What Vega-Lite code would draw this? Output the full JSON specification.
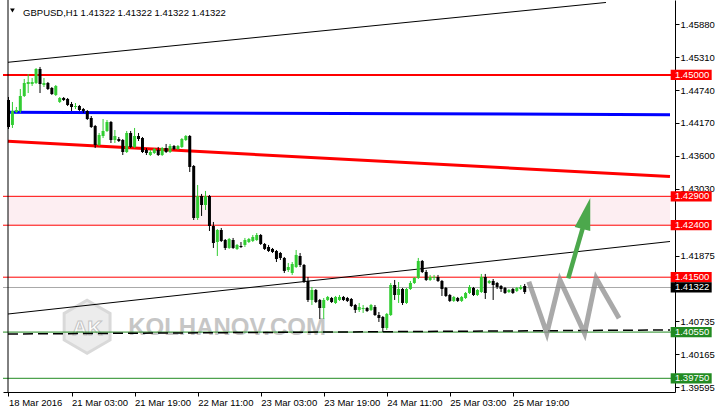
{
  "$schema": "https://vega.github.io/schema/vega-lite/v6.json",
  "width": 672,
  "height": 392,
  "autosize": "none",
  "padding": {"left": 3, "top": 0, "right": 42, "bottom": 20},
  "background": "white",
  "config": {
    "view": {"stroke": null},
    "axis": {"labelFont": "Liberation Sans", "labelFontSize": 9.5, "labelColor": "#000000", "tickColor": "#000000", "domainColor": "#000000", "domainWidth": 1, "tickWidth": 1, "grid": false}
  },
  "datasets": {
    "candles": [
      {"i":0,"o":1.44567,"h":1.44619,"l":1.44065,"c":1.44100},
      {"i":1,"o":1.44135,"h":1.44533,"l":1.44083,"c":1.44377},
      {"i":2,"o":1.44360,"h":1.44446,"l":1.44342,"c":1.44394},
      {"i":3,"o":1.44377,"h":1.44758,"l":1.44342,"c":1.44636},
      {"i":4,"o":1.44636,"h":1.44931,"l":1.44619,"c":1.44862},
      {"i":5,"o":1.44844,"h":1.45017,"l":1.44688,"c":1.44879},
      {"i":6,"o":1.44844,"h":1.44948,"l":1.44810,"c":1.44879},
      {"i":7,"o":1.44862,"h":1.45121,"l":1.44844,"c":1.45104},
      {"i":8,"o":1.45104,"h":1.45139,"l":1.44688,"c":1.44844},
      {"i":9,"o":1.44827,"h":1.44948,"l":1.44792,"c":1.44862},
      {"i":10,"o":1.44862,"h":1.44879,"l":1.44740,"c":1.44758},
      {"i":11,"o":1.44775,"h":1.44792,"l":1.44654,"c":1.44671},
      {"i":12,"o":1.44654,"h":1.44827,"l":1.44636,"c":1.44810},
      {"i":13,"o":1.44533,"h":1.44619,"l":1.44515,"c":1.44602},
      {"i":14,"o":1.44602,"h":1.44619,"l":1.44550,"c":1.44567},
      {"i":15,"o":1.44585,"h":1.44602,"l":1.44463,"c":1.44481},
      {"i":16,"o":1.44498,"h":1.44533,"l":1.44377,"c":1.44446},
      {"i":17,"o":1.44446,"h":1.44515,"l":1.44411,"c":1.44463},
      {"i":18,"o":1.44463,"h":1.44481,"l":1.44377,"c":1.44394},
      {"i":19,"o":1.44411,"h":1.44429,"l":1.44342,"c":1.44377},
      {"i":20,"o":1.44377,"h":1.44394,"l":1.44221,"c":1.44238},
      {"i":21,"o":1.44256,"h":1.44290,"l":1.44083,"c":1.44100},
      {"i":22,"o":1.44117,"h":1.44135,"l":1.43736,"c":1.43788},
      {"i":23,"o":1.43788,"h":1.43996,"l":1.43771,"c":1.43961},
      {"i":24,"o":1.43944,"h":1.44238,"l":1.43909,"c":1.44031},
      {"i":25,"o":1.44031,"h":1.44221,"l":1.44013,"c":1.44186},
      {"i":26,"o":1.44186,"h":1.44204,"l":1.43823,"c":1.43875},
      {"i":27,"o":1.43875,"h":1.44048,"l":1.43823,"c":1.43944},
      {"i":28,"o":1.43892,"h":1.43927,"l":1.43840,"c":1.43857},
      {"i":29,"o":1.43875,"h":1.43892,"l":1.43615,"c":1.43667},
      {"i":30,"o":1.43667,"h":1.44031,"l":1.43650,"c":1.43996},
      {"i":31,"o":1.43996,"h":1.44031,"l":1.43736,"c":1.43754},
      {"i":32,"o":1.43754,"h":1.44083,"l":1.43736,"c":1.43944},
      {"i":33,"o":1.43944,"h":1.43996,"l":1.43857,"c":1.43892},
      {"i":34,"o":1.43909,"h":1.43927,"l":1.43650,"c":1.43667},
      {"i":35,"o":1.43702,"h":1.43736,"l":1.43615,"c":1.43650},
      {"i":36,"o":1.43615,"h":1.43702,"l":1.43598,"c":1.43667},
      {"i":37,"o":1.43650,"h":1.43736,"l":1.43633,"c":1.43719},
      {"i":38,"o":1.43702,"h":1.43754,"l":1.43598,"c":1.43615},
      {"i":39,"o":1.43615,"h":1.43754,"l":1.43598,"c":1.43736},
      {"i":40,"o":1.43736,"h":1.43806,"l":1.43650,"c":1.43667},
      {"i":41,"o":1.43667,"h":1.43806,"l":1.43650,"c":1.43771},
      {"i":42,"o":1.43771,"h":1.43788,"l":1.43702,"c":1.43719},
      {"i":43,"o":1.43719,"h":1.43788,"l":1.43702,"c":1.43771},
      {"i":44,"o":1.43754,"h":1.43909,"l":1.43736,"c":1.43892},
      {"i":45,"o":1.43875,"h":1.43961,"l":1.43857,"c":1.43944},
      {"i":46,"o":1.43944,"h":1.43961,"l":1.43321,"c":1.43408},
      {"i":47,"o":1.43425,"h":1.43442,"l":1.42490,"c":1.42525},
      {"i":48,"o":1.42525,"h":1.43096,"l":1.42490,"c":1.42906},
      {"i":49,"o":1.42906,"h":1.42941,"l":1.42560,"c":1.42750},
      {"i":50,"o":1.42750,"h":1.42993,"l":1.42663,"c":1.42906},
      {"i":51,"o":1.42906,"h":1.42923,"l":1.42300,"c":1.42386},
      {"i":52,"o":1.42386,"h":1.42456,"l":1.42006,"c":1.42092},
      {"i":53,"o":1.42109,"h":1.42334,"l":1.41867,"c":1.42317},
      {"i":54,"o":1.42317,"h":1.42352,"l":1.42109,"c":1.42127},
      {"i":55,"o":1.42144,"h":1.42161,"l":1.41971,"c":1.42006},
      {"i":56,"o":1.42006,"h":1.42179,"l":1.41989,"c":1.42161},
      {"i":57,"o":1.42144,"h":1.42179,"l":1.41989,"c":1.42006},
      {"i":58,"o":1.41989,"h":1.42075,"l":1.41971,"c":1.42058},
      {"i":59,"o":1.42040,"h":1.42109,"l":1.42006,"c":1.42023},
      {"i":60,"o":1.42058,"h":1.42179,"l":1.42023,"c":1.42144},
      {"i":61,"o":1.42109,"h":1.42179,"l":1.42092,"c":1.42161},
      {"i":62,"o":1.42127,"h":1.42231,"l":1.42109,"c":1.42196},
      {"i":63,"o":1.42144,"h":1.42265,"l":1.42127,"c":1.42231},
      {"i":64,"o":1.42231,"h":1.42248,"l":1.42058,"c":1.42075},
      {"i":65,"o":1.42075,"h":1.42092,"l":1.41971,"c":1.41989},
      {"i":66,"o":1.42023,"h":1.42058,"l":1.41937,"c":1.41954},
      {"i":67,"o":1.41989,"h":1.42006,"l":1.41919,"c":1.41937},
      {"i":68,"o":1.41954,"h":1.41971,"l":1.41763,"c":1.41815},
      {"i":69,"o":1.41919,"h":1.41937,"l":1.41798,"c":1.41833},
      {"i":70,"o":1.41833,"h":1.41850,"l":1.41573,"c":1.41608},
      {"i":71,"o":1.41625,"h":1.41746,"l":1.41590,"c":1.41677},
      {"i":72,"o":1.41573,"h":1.41763,"l":1.41539,"c":1.41729},
      {"i":73,"o":1.41677,"h":1.41971,"l":1.41660,"c":1.41885},
      {"i":74,"o":1.41867,"h":1.41919,"l":1.41677,"c":1.41712},
      {"i":75,"o":1.41712,"h":1.41729,"l":1.41400,"c":1.41417},
      {"i":76,"o":1.41435,"h":1.41504,"l":1.41071,"c":1.41106},
      {"i":77,"o":1.41106,"h":1.41331,"l":1.41019,"c":1.41279},
      {"i":78,"o":1.41279,"h":1.41296,"l":1.41054,"c":1.41071},
      {"i":79,"o":1.41106,"h":1.41123,"l":1.40777,"c":1.40967},
      {"i":80,"o":1.40967,"h":1.41140,"l":1.40777,"c":1.41106},
      {"i":81,"o":1.41106,"h":1.41175,"l":1.41089,"c":1.41158},
      {"i":82,"o":1.41140,"h":1.41158,"l":1.41054,"c":1.41071},
      {"i":83,"o":1.41054,"h":1.41175,"l":1.41037,"c":1.41158},
      {"i":84,"o":1.41106,"h":1.41192,"l":1.41089,"c":1.41158},
      {"i":85,"o":1.41158,"h":1.41175,"l":1.41089,"c":1.41106},
      {"i":86,"o":1.41140,"h":1.41158,"l":1.41071,"c":1.41089},
      {"i":87,"o":1.41123,"h":1.41140,"l":1.40985,"c":1.41002},
      {"i":88,"o":1.41019,"h":1.41037,"l":1.40881,"c":1.40933},
      {"i":89,"o":1.40933,"h":1.41054,"l":1.40898,"c":1.40985},
      {"i":90,"o":1.40950,"h":1.41019,"l":1.40881,"c":1.40967},
      {"i":91,"o":1.40967,"h":1.40985,"l":1.40898,"c":1.40915},
      {"i":92,"o":1.40933,"h":1.41037,"l":1.40915,"c":1.41019},
      {"i":93,"o":1.40985,"h":1.41019,"l":1.40829,"c":1.40846},
      {"i":94,"o":1.40846,"h":1.40898,"l":1.40725,"c":1.40794},
      {"i":95,"o":1.40811,"h":1.40829,"l":1.40552,"c":1.40621},
      {"i":96,"o":1.40621,"h":1.40881,"l":1.40587,"c":1.40864},
      {"i":97,"o":1.40846,"h":1.41400,"l":1.40829,"c":1.41365},
      {"i":98,"o":1.41365,"h":1.41452,"l":1.41106,"c":1.41192},
      {"i":99,"o":1.41192,"h":1.41417,"l":1.41054,"c":1.41296},
      {"i":100,"o":1.41296,"h":1.41314,"l":1.41019,"c":1.41054},
      {"i":101,"o":1.41054,"h":1.41314,"l":1.41037,"c":1.41296},
      {"i":102,"o":1.41296,"h":1.41435,"l":1.41279,"c":1.41400},
      {"i":103,"o":1.41400,"h":1.41504,"l":1.41383,"c":1.41487},
      {"i":104,"o":1.41487,"h":1.41833,"l":1.41469,"c":1.41781},
      {"i":105,"o":1.41781,"h":1.41798,"l":1.41573,"c":1.41590},
      {"i":106,"o":1.41590,"h":1.41625,"l":1.41435,"c":1.41452},
      {"i":107,"o":1.41452,"h":1.41539,"l":1.41435,"c":1.41504},
      {"i":108,"o":1.41487,"h":1.41539,"l":1.41452,"c":1.41504},
      {"i":109,"o":1.41504,"h":1.41539,"l":1.41417,"c":1.41435},
      {"i":110,"o":1.41435,"h":1.41452,"l":1.41175,"c":1.41296},
      {"i":111,"o":1.41314,"h":1.41331,"l":1.41158,"c":1.41175},
      {"i":112,"o":1.41192,"h":1.41210,"l":1.41071,"c":1.41089},
      {"i":113,"o":1.41089,"h":1.41175,"l":1.41071,"c":1.41158},
      {"i":114,"o":1.41140,"h":1.41158,"l":1.41071,"c":1.41089},
      {"i":115,"o":1.41089,"h":1.41175,"l":1.41071,"c":1.41158},
      {"i":116,"o":1.41140,"h":1.41244,"l":1.41123,"c":1.41227},
      {"i":117,"o":1.41227,"h":1.41365,"l":1.41210,"c":1.41331},
      {"i":118,"o":1.41314,"h":1.41331,"l":1.41175,"c":1.41192},
      {"i":119,"o":1.41192,"h":1.41296,"l":1.41175,"c":1.41279},
      {"i":120,"o":1.41244,"h":1.41556,"l":1.41227,"c":1.41504},
      {"i":121,"o":1.41504,"h":1.41556,"l":1.41123,"c":1.41227},
      {"i":122,"o":1.41400,"h":1.41452,"l":1.41383,"c":1.41435},
      {"i":123,"o":1.41435,"h":1.41469,"l":1.41106,"c":1.41365},
      {"i":124,"o":1.41400,"h":1.41417,"l":1.41296,"c":1.41331},
      {"i":125,"o":1.41348,"h":1.41365,"l":1.41244,"c":1.41296},
      {"i":126,"o":1.41314,"h":1.41331,"l":1.41210,"c":1.41227},
      {"i":127,"o":1.41244,"h":1.41296,"l":1.41227,"c":1.41279},
      {"i":128,"o":1.41296,"h":1.41314,"l":1.41210,"c":1.41227},
      {"i":129,"o":1.41262,"h":1.41331,"l":1.41244,"c":1.41314},
      {"i":130,"o":1.41296,"h":1.41365,"l":1.41279,"c":1.41331},
      {"i":131,"o":1.41348,"h":1.41383,"l":1.41210,"c":1.41244}
    ],
    "levels": [
      {"p":1.45,"t":"1.45000","k":"resistance"},
      {"p":1.429,"t":"1.42900","k":"resistance"},
      {"p":1.424,"t":"1.42400","k":"resistance"},
      {"p":1.415,"t":"1.41500","k":"resistance"},
      {"p":1.41322,"t":"1.41322","k":"bid"},
      {"p":1.4055,"t":"1.40550","k":"support"},
      {"p":1.3975,"t":"1.39750","k":"support"}
    ]
  },
  "layer": [
    {
      "data": {"name": "candles"},
      "mark": {"type": "rule", "strokeWidth": 1, "opacity": 0},
      "encoding": {
        "x": {
          "field": "i", "type": "quantitative", "title": null,
          "scale": {"domain": [-0.125, 167.875], "nice": false, "zero": false},
          "axis": {
            "values": [0, 16, 32, 48, 64, 80, 96, 112, 128],
            "labelExpr": "['18 Mar 2016','21 Mar 03:00','21 Mar 19:00','22 Mar 11:00','23 Mar 03:00','23 Mar 19:00','24 Mar 11:00','25 Mar 03:00','25 Mar 19:00'][round(datum.value/16)]",
            "title": null, "grid": false, "labelAlign": "left", "labelBaseline": "top",
            "labelPadding": 1, "tickSize": 4, "labelFlush": false, "labelOverlap": false, "labelBound": false
          }
        },
        "y": {
          "field": "l", "type": "quantitative", "title": null,
          "scale": {"domain": [1.39513, 1.46298], "nice": false, "zero": false},
          "axis": {
            "orient": "right",
            "values": [1.4588, 1.4531, 1.4474, 1.4417, 1.436, 1.4303, 1.41875, 1.40735, 1.40165, 1.39595],
            "format": ".5f", "title": null, "grid": false, "tickSize": 4, "labelPadding": 1,
            "labelAlign": "left", "labelBaseline": "middle", "labelOverlap": false, "labelFlush": false
          }
        },
        "y2": {"field": "h"}
      }
    },
    {
      "data": {"values": [{"lo": 1.424, "hi": 1.429}]},
      "mark": {"type": "rect", "color": "#FDEEF2"},
      "encoding": {
        "x": {"datum": -0.125, "type": "quantitative", "title": null},
        "x2": {"datum": 167.875},
        "y": {"field": "lo", "type": "quantitative", "title": null},
        "y2": {"field": "hi"}
      }
    },
    {
      "data": {"values": [{}]},
      "mark": {"type": "point", "shape": "M0,-1L0.866,-0.5L0.866,0.5L0,1L-0.866,0.5L-0.866,-0.5Z", "size": 2809, "filled": true, "fill": "#ECECEC", "stroke": "#D9D9D9", "strokeWidth": 3, "opacity": 1},
      "encoding": {
        "x": {"datum": 19.95, "type": "quantitative", "title": null},
        "y": {"datum": 1.40643, "type": "quantitative", "title": null}
      }
    },
    {
      "data": {"values": [{"t": "AK"}]},
      "mark": {"type": "text", "font": "Liberation Sans", "fontWeight": "bold", "fontSize": 21, "align": "center", "baseline": "alphabetic", "fill": "#FFFFFF", "stroke": "#C4C4C4", "strokeWidth": 1},
      "encoding": {
        "x": {"datum": 20.0, "type": "quantitative", "title": null},
        "y": {"datum": 1.40499, "type": "quantitative", "title": null},
        "text": {"field": "t"}
      }
    },
    {
      "data": {"values": [{"t": "KOLHANOV.COM"}]},
      "mark": {"type": "text", "font": "Liberation Sans", "fontWeight": "bold", "fontSize": 24, "align": "left", "baseline": "alphabetic", "color": "#C6C6C6"},
      "encoding": {
        "x": {"datum": 30.375, "type": "quantitative", "title": null},
        "y": {"datum": 1.40499, "type": "quantitative", "title": null},
        "text": {"field": "t"}
      }
    },
    {
      "data": {"values": [{"p": 1.429}, {"p": 1.424}, {"p": 1.415}]},
      "mark": {"type": "rule", "color": "#FF0000", "strokeWidth": 1},
      "encoding": {"y": {"field": "p", "type": "quantitative", "title": null}}
    },
    {
      "data": {"values": [{"p": 1.45}]},
      "mark": {"type": "rule", "color": "#FF0000", "strokeWidth": 2},
      "encoding": {"y": {"field": "p", "type": "quantitative", "title": null}}
    },
    {
      "data": {"values": [{"p": 1.41322}]},
      "mark": {"type": "rule", "color": "#A8A8A8", "strokeWidth": 1},
      "encoding": {"y": {"field": "p", "type": "quantitative", "title": null}}
    },
    {
      "data": {"values": [{"p": 1.4055}, {"p": 1.3975}]},
      "mark": {"type": "rule", "color": "#228B22", "strokeWidth": 1},
      "encoding": {"y": {"field": "p", "type": "quantitative", "title": null}}
    },
    {
      "data": {"values": [{"i": -0.125, "p": 1.43852}, {"i": 167.875, "p": 1.43243}]},
      "mark": {"type": "line", "color": "#FF0000", "strokeWidth": 3},
      "encoding": {
        "x": {"field": "i", "type": "quantitative", "title": null},
        "y": {"field": "p", "type": "quantitative", "title": null}
      }
    },
    {
      "data": {"values": [{"i": -0.125, "p": 1.44354}, {"i": 167.875, "p": 1.44313}]},
      "mark": {"type": "line", "color": "#0000FF", "strokeWidth": 3},
      "encoding": {
        "x": {"field": "i", "type": "quantitative", "title": null},
        "y": {"field": "p", "type": "quantitative", "title": null}
      }
    },
    {
      "data": {"values": [{"i": -0.125, "p": 1.45220}, {"i": 151.625, "p": 1.46255}]},
      "mark": {"type": "line", "color": "#000000", "strokeWidth": 1},
      "encoding": {
        "x": {"field": "i", "type": "quantitative", "title": null},
        "y": {"field": "p", "type": "quantitative", "title": null}
      }
    },
    {
      "data": {"values": [{"i": -0.125, "p": 1.40863}, {"i": 167.875, "p": 1.42118}]},
      "mark": {"type": "line", "color": "#000000", "strokeWidth": 1},
      "encoding": {
        "x": {"field": "i", "type": "quantitative", "title": null},
        "y": {"field": "p", "type": "quantitative", "title": null}
      }
    },
    {
      "data": {"values": [{"i": -0.125, "p": 1.40517}, {"i": 167.875, "p": 1.40587}]},
      "mark": {"type": "line", "color": "#000000", "strokeWidth": 1.5, "strokeDash": [10, 5]},
      "encoding": {
        "x": {"field": "i", "type": "quantitative", "title": null},
        "y": {"field": "p", "type": "quantitative", "title": null}
      }
    },
    {
      "data": {"name": "candles"},
      "mark": {"type": "rule", "strokeWidth": 1},
      "encoding": {
        "x": {"field": "i", "type": "quantitative", "title": null},
        "y": {"field": "l", "type": "quantitative", "title": null},
        "y2": {"field": "h"},
        "color": {"condition": {"test": "datum.c > datum.o", "value": "#32CD32"}, "value": "#000000"}
      }
    },
    {
      "data": {"name": "candles"},
      "mark": {"type": "bar", "width": 3},
      "encoding": {
        "x": {"field": "i", "type": "quantitative", "title": null},
        "y": {"field": "o", "type": "quantitative", "title": null},
        "y2": {"field": "c"},
        "color": {"condition": {"test": "datum.c > datum.o", "value": "#32CD32"}, "value": "#000000"}
      }
    },
    {
      "data": {"values": [
        {"i": 132.05, "p": 1.41422}, {"i": 136.625, "p": 1.40529}, {"i": 139.95, "p": 1.41452},
        {"i": 146.2, "p": 1.40529}, {"i": 149.125, "p": 1.41481}, {"i": 154.95, "p": 1.40789}
      ]},
      "mark": {"type": "line", "color": "#8C8C8C", "strokeWidth": 5, "opacity": 0.75, "strokeJoin": "miter"},
      "encoding": {
        "x": {"field": "i", "type": "quantitative", "title": null},
        "y": {"field": "p", "type": "quantitative", "title": null}
      }
    },
    {
      "data": {"values": [{"i": 142.05, "p": 1.41481}, {"i": 145.875, "p": 1.42386}]},
      "mark": {"type": "line", "color": "#4CA84C", "strokeWidth": 4.5},
      "encoding": {
        "x": {"field": "i", "type": "quantitative", "title": null},
        "y": {"field": "p", "type": "quantitative", "title": null}
      }
    },
    {
      "data": {"values": [{}]},
      "mark": {"type": "point", "shape": "M0,-1L0.5,1L-0.5,1Z", "size": 1024, "angle": 14, "filled": true, "color": "#4CA84C", "opacity": 1, "strokeWidth": 0},
      "encoding": {
        "x": {"datum": 146.65, "type": "quantitative", "title": null},
        "y": {"datum": 1.42604, "type": "quantitative", "title": null}
      }
    },
    {
      "data": {"values": [{}]},
      "mark": {"type": "rule", "color": "#000000", "strokeWidth": 1},
      "encoding": {"x": {"datum": -0.125, "type": "quantitative", "title": null}}
    },
    {
      "data": {"values": [{}]},
      "mark": {"type": "point", "shape": "triangle-down", "size": 22, "filled": true, "color": "#000000", "opacity": 1},
      "encoding": {
        "x": {"datum": 1.0, "type": "quantitative", "title": null},
        "y": {"datum": 1.46117, "type": "quantitative", "title": null}
      }
    },
    {
      "data": {"values": [{"t": "GBPUSD,H1  1.41322 1.41322 1.41322 1.41322"}]},
      "mark": {"type": "text", "font": "Liberation Sans", "fontSize": 9.5, "align": "left", "baseline": "alphabetic", "color": "#000000"},
      "encoding": {
        "x": {"datum": 3.7, "type": "quantitative", "title": null},
        "y": {"datum": 1.46027, "type": "quantitative", "title": null},
        "text": {"field": "t"}
      }
    },
    {
      "data": {"name": "levels"},
      "mark": {"type": "point", "shape": "M-1,-0.25L1,-0.25L1,0.25L-1,0.25Z", "size": 1681, "filled": true, "opacity": 1, "strokeWidth": 0},
      "encoding": {
        "x": {"datum": 173.25, "type": "quantitative", "title": null},
        "y": {"field": "p", "type": "quantitative", "title": null},
        "color": {"field": "k", "type": "nominal", "scale": {"domain": ["resistance", "bid", "support"], "range": ["#FF0000", "#000000", "#228B22"]}, "legend": null}
      }
    },
    {
      "data": {"name": "levels"},
      "mark": {"type": "text", "font": "Liberation Sans", "fontSize": 9.5, "align": "left", "baseline": "middle", "color": "#FFFFFF"},
      "encoding": {
        "x": {"datum": 169.125, "type": "quantitative", "title": null},
        "y": {"field": "p", "type": "quantitative", "title": null},
        "text": {"field": "t"}
      }
    }
  ]
}
